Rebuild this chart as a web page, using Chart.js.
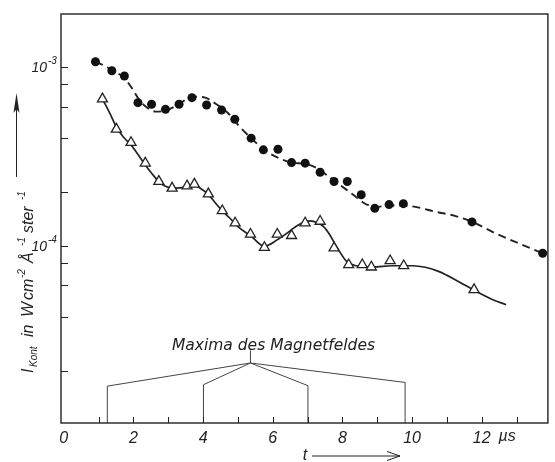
<!DOCTYPE html>
<html>
<head>
<meta charset="utf-8">
<script src="https://cdn.jsdelivr.net/npm/chart.js@4.4.1/dist/chart.umd.min.js"></script>
<style>
  body { margin: 0; background: #fff; }
  canvas { display: block; }
</style>
</head>
<body>
<canvas id="chart" width="555" height="462"></canvas>
<script>
// filled circles (t in µs, I in W cm^-2 Å^-1 ster^-1)
const circleT = [0.91, 1.38, 1.74, 2.13, 2.52, 2.92, 3.31, 3.68, 4.10, 4.53, 4.91, 5.38, 5.73,
  6.15, 6.54, 6.93, 7.36, 7.76, 8.14, 8.54, 8.93, 9.34, 9.75, 11.72, 13.75];
const circleI = [1.07e-3, 9.53e-4, 8.91e-4, 6.32e-4, 6.19e-4, 5.80e-4, 6.19e-4, 6.74e-4, 6.13e-4,
  5.75e-4, 5.10e-4, 4.00e-4, 3.44e-4, 3.47e-4, 2.92e-4, 2.90e-4, 2.58e-4, 2.29e-4, 2.29e-4,
  1.93e-4, 1.62e-4, 1.70e-4, 1.72e-4, 1.36e-4, 9.08e-5];

// open triangles
const triT = [1.11, 1.51, 1.93, 2.34, 2.73, 3.11, 3.54, 3.75, 4.15, 4.55, 4.92, 5.36, 5.76,
  6.13, 6.54, 6.93, 7.36, 7.76, 8.18, 8.57, 8.83, 9.37, 9.76, 11.78];
const triI = [6.63e-4, 4.49e-4, 3.78e-4, 2.90e-4, 2.29e-4, 2.10e-4, 2.16e-4, 2.21e-4, 1.95e-4,
  1.57e-4, 1.34e-4, 1.16e-4, 9.78e-5, 1.16e-4, 1.14e-4, 1.34e-4, 1.37e-4, 9.71e-5, 7.83e-5,
  7.83e-5, 7.60e-5, 8.24e-5, 7.73e-5, 5.68e-5];

// dashed curve through the circles
const dashT = [0.91, 1.18, 1.46, 1.74, 1.97, 2.17, 2.37, 2.64, 2.92, 3.21, 3.49, 3.77, 4.06,
  4.34, 4.72, 5.05, 5.38, 5.76, 6.13, 6.54, 6.94, 7.27, 7.55, 7.93, 8.31, 8.63, 8.97, 9.33,
  9.73, 10.10, 10.67, 11.23, 11.80, 12.37, 13.02, 13.75];
const dashI = [1.07e-3, 1.013e-3, 9.44e-4, 8.68e-4, 7.54e-4, 6.54e-4, 5.98e-4, 5.63e-4, 5.70e-4,
  6.05e-4, 6.54e-4, 6.82e-4, 6.74e-4, 6.27e-4, 5.51e-4, 4.64e-4, 4.00e-4, 3.44e-4, 3.12e-4,
  2.92e-4, 2.87e-4, 2.72e-4, 2.49e-4, 2.19e-4, 1.93e-4, 1.73e-4, 1.65e-4, 1.68e-4, 1.68e-4,
  1.65e-4, 1.55e-4, 1.47e-4, 1.34e-4, 1.18e-4, 1.04e-4, 9.08e-5];

// solid curve through the triangles
const solidT = [1.11, 1.32, 1.51, 1.71, 1.93, 2.14, 2.34, 2.54, 2.73, 2.92, 3.11, 3.33, 3.54,
  3.77, 3.95, 4.15, 4.35, 4.55, 4.75, 5.00, 5.38, 5.76, 6.13, 6.39, 6.61, 6.84, 7.08, 7.27,
  7.46, 7.64, 7.83, 8.12, 8.40, 8.87, 9.44, 10.01, 10.38, 10.76, 11.33, 11.80, 12.27, 12.70];
const solidI = [6.63e-4, 5.53e-4, 4.62e-4, 4.06e-4, 3.67e-4, 3.22e-4, 2.83e-4, 2.52e-4, 2.28e-4,
  2.15e-4, 2.10e-4, 2.11e-4, 2.14e-4, 2.16e-4, 2.08e-4, 1.94e-4, 1.74e-4, 1.57e-4, 1.44e-4,
  1.28e-4, 1.13e-4, 9.94e-5, 1.08e-4, 1.17e-4, 1.26e-4, 1.34e-4, 1.38e-4, 1.35e-4, 1.28e-4,
  1.15e-4, 9.91e-5, 8.17e-5, 7.73e-5, 7.60e-5, 7.73e-5, 7.73e-5, 7.58e-5, 7.19e-5, 6.32e-5,
  5.61e-5, 5.04e-5, 4.68e-5];

// maxima of the magnetic field and the bracket that joins them
const fieldMaxT = [1.25, 4.01, 7.01, 9.80];
const fieldJoinI = [1.64e-5, 1.67e-5, 1.65e-5, 1.72e-5];
const apexT = 5.36, apexI = 2.21e-5, stemI = 2.6e-5;
const annotation = 'Maxima des Magnetfeldes';

// axes
const xMin = -0.08, xMax = 13.9;
const yMin = 1.02e-5, yMax = 1.98e-3;
const xTicks = [0, 1, 2, 3, 4, 5, 6, 7, 8, 9, 10, 11, 12, 13];
const xTickLabels = ['0', '', '2', '', '4', '', '6', '', '8', '', '10', '', '12', ''];
const yTicks = [2e-5, 4e-5, 6e-5, 8e-5, 1e-4, 2e-4, 4e-4, 6e-4, 8e-4, 1e-3];
const yLabelValues = [1e-3, 1e-4];
const yLabelExps = ['-3', '-4'];

const ink = '#222';
const zip = (xs, ys) => xs.map((x, i) => ({ x: x, y: ys[i] }));

const bracketSets = fieldMaxT.map((t, i) => ({
  data: [{ x: t, y: yMin }, { x: t, y: fieldJoinI[i] }, { x: apexT, y: apexI }],
  borderColor: '#444', borderWidth: 1, pointRadius: 0, tension: 0
}));
bracketSets.push({
  data: [{ x: apexT, y: apexI }, { x: apexT, y: stemI }],
  borderColor: '#444', borderWidth: 1, pointRadius: 0, tension: 0
});

// frame, inner ticks, y labels, titles, annotation text
const decor = {
  id: 'decor',
  afterDraw(chart) {
    const ctx = chart.ctx, a = chart.chartArea;
    const xs = chart.scales.x, ys = chart.scales.y;
    ctx.save();
    ctx.strokeStyle = ink;
    ctx.fillStyle = ink;
    ctx.lineWidth = 1.4;
    ctx.strokeRect(a.left, a.top, a.right - a.left, a.bottom - a.top);

    ctx.lineWidth = 1;
    ctx.beginPath();
    xTicks.slice(1).forEach(v => {
      const px = Math.round(xs.getPixelForValue(v)) + 0.5;
      ctx.moveTo(px, a.bottom); ctx.lineTo(px, a.bottom - 6);
    });
    yTicks.forEach(v => {
      const py = Math.round(ys.getPixelForValue(v)) + 0.5;
      ctx.moveTo(a.left, py); ctx.lineTo(a.left + 7, py);
    });
    ctx.stroke();

    // y labels 10^-n
    ctx.textBaseline = 'middle';
    yLabelValues.forEach((v, i) => {
      const py = ys.getPixelForValue(v) + 1;
      ctx.font = 'italic 14px "Liberation Sans"';
      ctx.textAlign = 'right';
      ctx.fillText('10', 47, py);
      ctx.font = 'italic 10px "Liberation Sans"';
      ctx.textAlign = 'left';
      ctx.fillText(yLabelExps[i], 48, py - 7);
    });

    // µs unit
    ctx.font = 'italic 16px "Liberation Sans"';
    ctx.textAlign = 'center';
    ctx.fillText('\u00b5s', xs.getPixelForValue(12.73), 437);

    // x title with arrow
    ctx.fillText('t', 305, 456);
    ctx.beginPath();
    ctx.moveTo(312, 456); ctx.lineTo(400, 456);
    ctx.moveTo(387, 451.5); ctx.lineTo(400, 456); ctx.lineTo(387, 460.5);
    ctx.stroke();

    // y title, rotated; each piece at its offset along the axis
    ctx.save();
    ctx.translate(33, 373);
    ctx.rotate(-Math.PI / 2);
    ctx.textAlign = 'left';
    ctx.textBaseline = 'alphabetic';
    const parts = [
      ['I', 16, 0, 0], ['Kont', 10, 4, 6], ['in', 16, 0, 36], ['W', 16, 0, 56], ['cm', 16, 0, 73],
      ['-2', 10, -8, 95], ['\u00c5', 16, 0, 110], ['-1', 10, -8, 127],
      ['ster', 16, 0, 140], ['-1', 10, -8, 173]
    ];
    parts.forEach(p => {
      ctx.font = 'italic ' + p[1] + 'px "Liberation Sans"';
      ctx.fillText(p[0], p[3], p[2]);
    });
    ctx.restore();

    // y arrow
    ctx.beginPath();
    ctx.moveTo(16.5, 177); ctx.lineTo(16.5, 100);
    ctx.stroke();
    ctx.beginPath();
    ctx.moveTo(16.5, 93); ctx.lineTo(13.5, 113); ctx.lineTo(16.5, 109); ctx.lineTo(19.5, 113);
    ctx.closePath();
    ctx.fill();

    // annotation
    ctx.font = 'italic 15.5px "DejaVu Sans"';
    ctx.textAlign = 'center';
    ctx.fillText(annotation, xs.getPixelForValue(apexT) + 23, ys.getPixelForValue(stemI) - 4);
    ctx.restore();
  }
};

new Chart(document.getElementById('chart'), {
  type: 'line',
  data: {
    datasets: [
      { data: zip(circleT, circleI), showLine: false, pointRadius: 4.5,
        pointBackgroundColor: '#111', pointBorderColor: '#111', pointBorderWidth: 0 },
      { data: zip(triT, triI), showLine: false, pointStyle: 'triangle', pointRadius: 5.8,
        pointBackgroundColor: '#fff', pointBorderColor: ink, pointBorderWidth: 1.3 },
      { data: zip(dashT, dashI), borderColor: ink, borderWidth: 1.9, borderDash: [8, 5],
        pointRadius: 0, cubicInterpolationMode: 'monotone' },
      { data: zip(solidT, solidI), borderColor: ink, borderWidth: 1.7,
        pointRadius: 0, cubicInterpolationMode: 'monotone' },
      ...bracketSets
    ]
  },
  options: {
    responsive: false,
    animation: false,
    events: [],
    layout: { padding: { top: 14, right: 1, left: 0, bottom: 0 } },
    plugins: { legend: { display: false }, tooltip: { enabled: false } },
    scales: {
      x: {
        type: 'linear', min: xMin, max: xMax,
        grid: { display: false, drawTicks: false },
        border: { display: false },
        afterBuildTicks: s => { s.ticks = xTicks.map(v => ({ value: v })); },
        afterFit: s => { s.height = 39; },
        ticks: {
          autoSkip: false, maxRotation: 0, padding: 6, color: ink,
          font: { family: 'Liberation Sans', size: 16, style: 'italic' },
          callback: (v, i) => xTickLabels[i]
        }
      },
      y: {
        type: 'logarithmic', min: yMin, max: yMax,
        grid: { display: false, drawTicks: false },
        border: { display: false },
        ticks: { display: false },
        afterFit: s => { s.width = 61; }
      }
    }
  },
  plugins: [decor]
});
</script>
</body>
</html>
